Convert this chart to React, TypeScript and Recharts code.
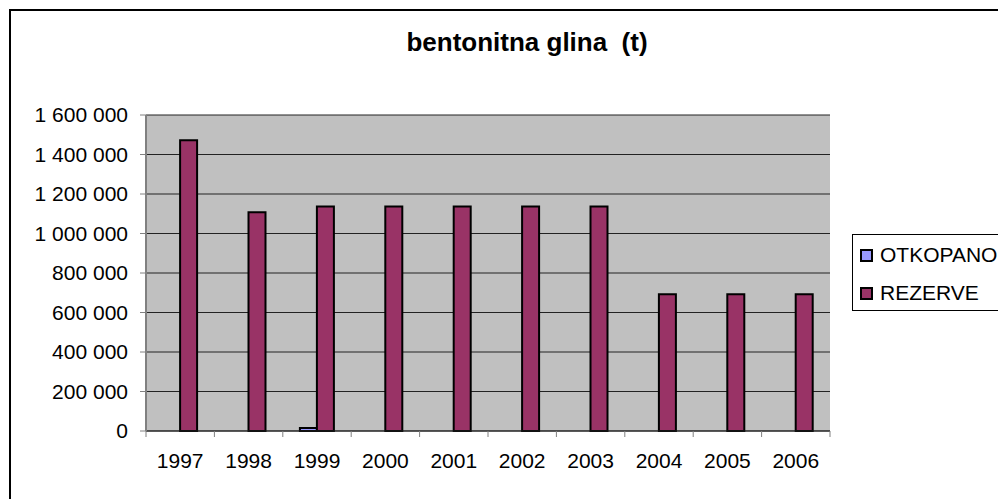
import { BarChart, Bar, XAxis, YAxis, CartesianGrid } from 'recharts';

const years = ['1997', '1998', '1999', '2000', '2001', '2002', '2003', '2004', '2005', '2006'];
const otkopano = [0, 0, 15000, 0, 0, 0, 0, 0, 0, 0];
const rezerve = [1472000, 1108000, 1137000, 1137000, 1137000, 1137000, 1137000, 692000, 692000, 692000];
const yTicks = [0, 200000, 400000, 600000, 800000, 1000000, 1200000, 1400000, 1600000];

const series = [
  { key: 'otkopano', name: 'OTKOPANO', color: '#9999FF' },
  { key: 'rezerve', name: 'REZERVE', color: '#993366' },
];

const data = years.map((y, i) => ({ year: y, otkopano: otkopano[i], rezerve: rezerve[i] }));

const FONT = '"Liberation Sans", Arial, sans-serif';

const fmt = (v: number) => String(v).replace(/\B(?=(\d{3})+(?!\d))/g, ' ');

const YearTick = (props: any) => {
  const { x, y, payload, index } = props;
  const half = payload?.offset ?? 34.2;
  return (
    <g>
      <line x1={x - half} x2={x - half} y1={y} y2={y + 6} stroke="#808080" />
      {index === years.length - 1 && (
        <line x1={x + half} x2={x + half} y1={y} y2={y + 6} stroke="#808080" />
      )}
      <text x={x} y={y + 37} textAnchor="middle" fontSize={21} fontFamily={FONT} fill="#000">
        {payload.value}
      </text>
    </g>
  );
};

export default function App() {
  return (
    <div style={{ position: 'absolute', left: 0, top: 0, width: 998, height: 499, overflow: 'hidden', background: '#fff' }}>
      <div style={{ position: 'absolute', left: 9, top: 9, width: 1200, height: 600, border: '2px solid #000' }} />
      <div
        style={{
          position: 'absolute', left: 277, top: 29, width: 500, textAlign: 'center',
          fontFamily: FONT, fontWeight: 'bold', fontSize: 26, lineHeight: 1, whiteSpace: 'pre', color: '#000',
        }}
      >
        bentonitna glina  (t)
      </div>
      <div style={{ position: 'absolute', left: 0, top: 0 }}>
        <BarChart
          width={998}
          height={499}
          data={data}
          margin={{ top: 115, right: 168, bottom: 0, left: 0 }}
          barCategoryGap="25%"
          barGap={0}
        >
          <CartesianGrid vertical={false} fill="#C0C0C0" stroke="#222" strokeOpacity={1} />
          <XAxis
            dataKey="year"
            height={68}
            axisLine={{ stroke: '#222' }}
            tickLine={false}
            tickSize={0}
            tickMargin={0}
            interval={0}
            tick={<YearTick />}
          />
          <XAxis xAxisId="top" dataKey="year" orientation="top" height={0} tick={false} tickLine={false} axisLine={{ stroke: '#808080', strokeWidth: 2 }} />
          <YAxis
            domain={[0, 1600000]}
            ticks={yTicks}
            width={146}
            tickFormatter={fmt}
            tickSize={6}
            tickMargin={12}
            axisLine={{ stroke: '#808080', strokeWidth: 2 }}
            tickLine={{ stroke: '#808080' }}
            tick={{ fontSize: 21, fontFamily: FONT, fill: '#000' }}
          />
          <YAxis yAxisId="right" orientation="right" width={0} domain={[0, 1600000]} tick={false} tickLine={false} axisLine={{ stroke: '#808080', strokeWidth: 2 }} />
          {series.map((s) => (
            <Bar key={s.key} dataKey={s.key} name={s.name} fill={s.color} stroke="#000" strokeWidth={2} isAnimationActive={false} />
          ))}
        </BarChart>
      </div>
      <div
        style={{
          position: 'absolute', left: 852, top: 234, width: 400, height: 75, border: '1px solid #000',
          background: '#fff', fontFamily: FONT, fontSize: 21, color: '#000',
        }}
      >
        {series.map((s, i) => (
          <div key={s.key} style={{ position: 'absolute', left: 7, top: 8 + i * 38, height: 24, display: 'flex', alignItems: 'center', whiteSpace: 'nowrap' }}>
            <span style={{ display: 'inline-block', width: 9, height: 9, background: s.color, border: '2px solid #000', marginRight: 7 }} />
            <span>{s.name}</span>
          </div>
        ))}
      </div>
    </div>
  );
}
